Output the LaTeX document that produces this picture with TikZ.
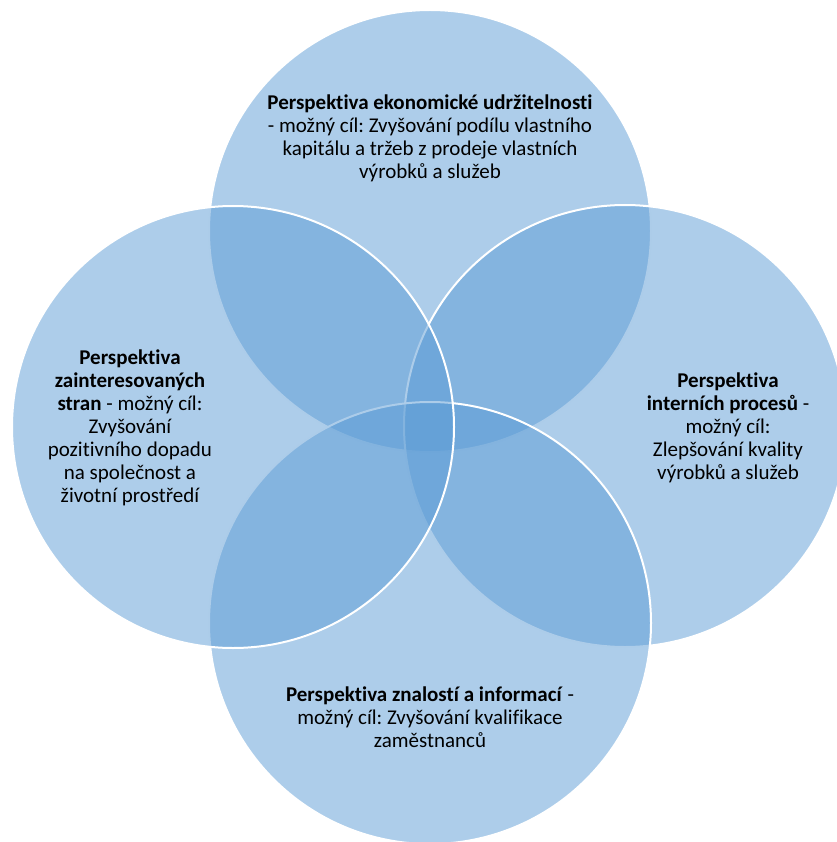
\documentclass[tikz,border=0pt]{standalone}
\usepackage{fontspec}
\setmainfont[Ligatures={NoCommon,TeX}]{Carlito}
\frenchspacing
\definecolor{vennblue}{HTML}{5B9BD5}
\begin{document}
\begin{tikzpicture}[x=1pt,y=-1pt,
  venn/.style={circle, minimum size=442pt, inner sep=0pt, fill=vennblue, fill opacity=0.5, draw=white, draw opacity=1, line width=2pt},
  lbl/.style={align=center, text=black, text opacity=1, font=\fontsize{21}{23}\selectfont, inner sep=0pt}]
\useasboundingbox (0,0) rectangle (836,842);
\node[venn] (ctop) at (430,231) {};
\node[venn] (cright) at (625,426) {};
\node[venn] (cbottom) at (430,623) {};
\node[venn] (cleft) at (233,427) {};
\node[lbl] (ttop) at (430,138) {\textbf{Perspektiva ekonomické udržitelnosti}\\- možný cíl: Zvyšování podílu vlastního\\kapitálu a tržeb z prodeje vlastních\\výrobků a služeb};
\node[lbl] (tleft) at (130,428) {\textbf{Perspektiva}\\\textbf{zainteresovaných}\\\textbf{stran} - možný cíl:\\Zvyšování\\pozitivního dopadu\\na společnost a\\životní prostředí};
\node[lbl] (tright) at (728,428) {\textbf{Perspektiva}\\\textbf{interních procesů} -\\možný cíl:\\Zlepšování kvality\\výrobků a služeb};
\node[lbl] (tbottom) at (430,717) {\textbf{Perspektiva znalostí a informací} -\\možný cíl: Zvyšování kvalifikace\\zaměstnanců};
\end{tikzpicture}
\end{document}
